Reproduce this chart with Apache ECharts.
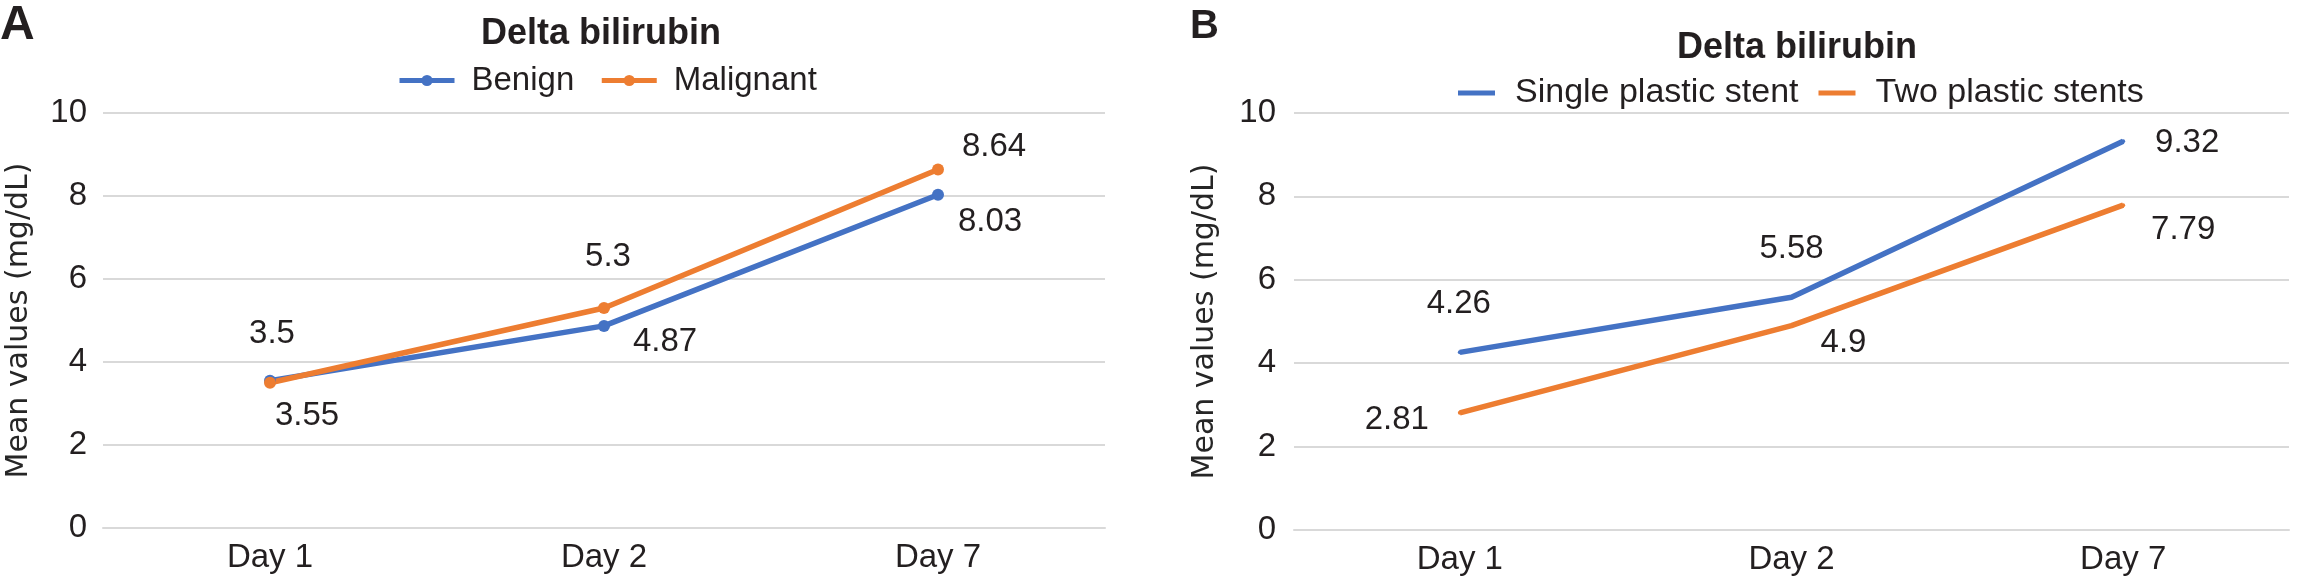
<!DOCTYPE html>
<html>
<head>
<meta charset="utf-8">
<script src="https://cdn.jsdelivr.net/npm/echarts@6/dist/echarts.min.js"></script>
<style>html,body{margin:0;padding:0;background:#fff}#c{width:2304px;height:578px}</style>
</head>
<body>
<div id="c"></div>
<script>
// ---- data ----
const categories = ['Day 1', 'Day 2', 'Day 7'];
const yTicks = [0, 2, 4, 6, 8, 10];
const titleA = 'Delta bilirubin';
const titleB = 'Delta bilirubin';
const namesA = ['Benign', 'Malignant'];
const namesB = ['Single plastic stent', 'Two plastic stents'];
const benign = [3.55, 4.87, 8.03];
const malignant = [3.5, 5.3, 8.64];
const singleStent = [4.26, 5.58, 9.32];
const twoStents = [2.81, 4.9, 7.79];
const yName = 'Mean values (mg/dL)';

// ---- label offsets (style) ----
const offBenign = [[37, 35], [61, 16], [52, 27]];
const offMalignant = [[2, -49], [4, -51], [56, -23]];
const offSingle = [[-1, -48], [0, -48], [64, 2]];
const offTwo = [[-63, 7], [52, 17], [60, 25]];

const BLUE = '#4472C4', ORANGE = '#ED7D31', TXT = '#231f20', GRID = '#d9d9d9';
const FONT = 'Liberation Sans, Arial, sans-serif';

function items(vals, offs) {
  return vals.map((v, i) => ({ value: v, label: { offset: offs[i] } }));
}
function yAxis(gi, margin, gap) {
  return {
    type: 'value', gridIndex: gi, min: yTicks[0], max: yTicks[yTicks.length - 1], interval: yTicks[1] - yTicks[0],
    axisLine: { show: false }, axisTick: { show: false },
    axisLabel: { color: TXT, fontSize: 33, fontFamily: FONT, margin: margin },
    splitLine: { lineStyle: { color: GRID, width: 2 } },
    name: yName, nameLocation: 'middle', nameRotate: 90, nameGap: gap,
    nameTextStyle: { color: '#262626', fontSize: 30, fontFamily: 'DejaVu Sans' }
  };
}
function xAxis(gi) {
  return {
    type: 'category', gridIndex: gi, data: categories, boundaryGap: true,
    axisLine: { show: true, lineStyle: { color: GRID, width: 2 } },
    axisTick: { show: false },
    axisLabel: { color: TXT, fontSize: 33, fontFamily: FONT, margin: 13 }
  };
}
function series(name, vals, offs, color, xi, withSym) {
  return {
    type: 'line', name: name, xAxisIndex: xi, yAxisIndex: xi,
    data: items(vals, offs),
    symbol: 'circle', symbolSize: withSym ? 12 : 4, showSymbol: true,
    lineStyle: { color: color, width: 5.5 },
    itemStyle: { color: color },
    label: { show: true, position: 'inside', color: TXT, fontSize: 33, fontFamily: FONT, align: 'center', verticalAlign: 'middle' },
    emphasis: { disabled: true },
    animation: false
  };
}

const chart = echarts.init(document.getElementById('c'), null, { renderer: 'canvas' });
chart.setOption({
  backgroundColor: '#fff',
  animation: false,
  title: [
    { text: 'A', left: 0, top: 2, padding: 0, textStyle: { fontSize: 48, fontWeight: 'bold', color: TXT, fontFamily: FONT } },
    { text: 'B', left: 1190, top: 7, padding: 0, textStyle: { fontSize: 40, fontWeight: 'bold', color: TXT, fontFamily: FONT } },
    { text: titleA, left: 481, top: 16, padding: 0, textStyle: { fontSize: 36, fontWeight: 'bold', color: TXT, fontFamily: FONT } },
    { text: titleB, left: 1677, top: 30, padding: 0, textStyle: { fontSize: 36, fontWeight: 'bold', color: TXT, fontFamily: FONT } }
  ],
  legend: [
    { data: namesA, left: 397, top: 64, padding: 0, itemWidth: 55, itemHeight: 14, itemGap: 25,
      lineStyle: { width: 5 },
      textStyle: { color: TXT, fontSize: 33, fontFamily: FONT, padding: [0, 0, 0, 12] } },
    { data: namesB.map(n => ({ name: n, icon: 'rect' })), left: 1458, top: 76, padding: 0, itemWidth: 37, itemHeight: 5, itemGap: 20,
      textStyle: { color: TXT, fontSize: 34, fontFamily: FONT, padding: [0, 0, 0, 15] } }
  ],
  grid: [
    { left: 103, right: 1199, top: 113, bottom: 50 },
    { left: 1294, right: 15, top: 113, bottom: 48 }
  ],
  xAxis: [xAxis(0), xAxis(1)],
  yAxis: [yAxis(0, 16, 69), yAxis(1, 18, 74)],
  series: [
    series(namesA[0], benign, offBenign, BLUE, 0, true),
    series(namesA[1], malignant, offMalignant, ORANGE, 0, true),
    series(namesB[0], singleStent, offSingle, BLUE, 1, false),
    series(namesB[1], twoStents, offTwo, ORANGE, 1, false)
  ]
});
</script>
</body>
</html>
